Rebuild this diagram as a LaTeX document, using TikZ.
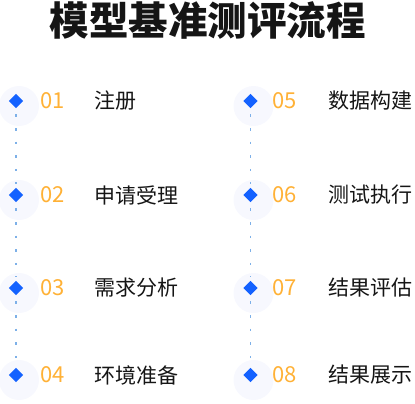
\documentclass[tikz,border=0pt]{standalone}
\usepackage{fontspec}
\setmainfont{Noto Sans CJK SC}
\usepackage{tikz}
\usetikzlibrary{positioning, shapes.geometric, backgrounds}

\definecolor{stepblue}{HTML}{1462FF}
\definecolor{steporange}{HTML}{FFB136}
\definecolor{stepdots}{HTML}{7DB0E8}
\definecolor{glowblue}{HTML}{F7F8FE}
\definecolor{textblack}{HTML}{151515}

\begin{document}
\begin{tikzpicture}[
    x=1pt, y=1pt,
    marker/.style={diamond, fill=stepblue, inner sep=0pt, minimum size=14.5pt},
    stepnum/.style={anchor=west, inner sep=0pt, text=steporange, font=\fontsize{22}{22}\selectfont},
    steptext/.style={anchor=west, inner sep=0pt, text=textblack, font=\fontsize{21}{21}\selectfont},
    link/.style={stepdots, line width=1.4pt, dash pattern=on 2.5pt off 11.1pt, shorten <=6pt, shorten >=4pt}
]
\useasboundingbox (0,0) rectangle (415,-404);

% Titel
\node[text=textblack, font=\fontsize{39.5}{40}\selectfont\bfseries] (title) at (207.5,-20) {模型基准测评流程};

% Knoten links
\node[marker] (d1) at (16,-101) {};
\node[marker] (d2) at (16,-195) {};
\node[marker] (d3) at (16,-288) {};
\node[marker] (d4) at (16,-375) {};
\node[stepnum] (n1) at (40.5,-101) {01};
\node[stepnum] (n2) at (40.5,-195) {02};
\node[stepnum] (n3) at (40.5,-288) {03};
\node[stepnum] (n4) at (40.5,-375) {04};
\node[steptext] (t1) at (94,-101) {注册};
\node[steptext] (t2) at (94,-195) {申请受理};
\node[steptext] (t3) at (94,-288) {需求分析};
\node[steptext] (t4) at (94,-375) {环境准备};

% Knoten rechts
\node[marker] (d5) at (250.5,-101) {};
\node[marker] (d6) at (250.5,-195) {};
\node[marker] (d7) at (250.5,-288) {};
\node[marker] (d8) at (250.5,-375) {};
\node[stepnum] (n5) at (272.5,-101) {05};
\node[stepnum] (n6) at (272.5,-195) {06};
\node[stepnum] (n7) at (272.5,-288) {07};
\node[stepnum] (n8) at (272.5,-375) {08};
\node[steptext] (t5) at (328,-101) {数据构建};
\node[steptext] (t6) at (328,-195) {测试执行};
\node[steptext] (t7) at (328,-288) {结果评估};
\node[steptext] (t8) at (328,-375) {结果展示};

% Schatten
\begin{scope}[on background layer]
\foreach \d in {d1,d2,d3,d4,d5,d6,d7,d8}
    \fill[glowblue] ([xshift=3pt, yshift=-5pt] \d.center) circle (20);
\end{scope}

% Kanten
\draw[link] (d1.south) -- (d2.north);
\draw[link] (d2.south) -- (d3.north);
\draw[link] (d3.south) -- (d4.north);
\draw[link] (d5.south) -- (d6.north);
\draw[link] (d6.south) -- (d7.north);
\draw[link] (d7.south) -- (d8.north);

\end{tikzpicture}
\end{document}
